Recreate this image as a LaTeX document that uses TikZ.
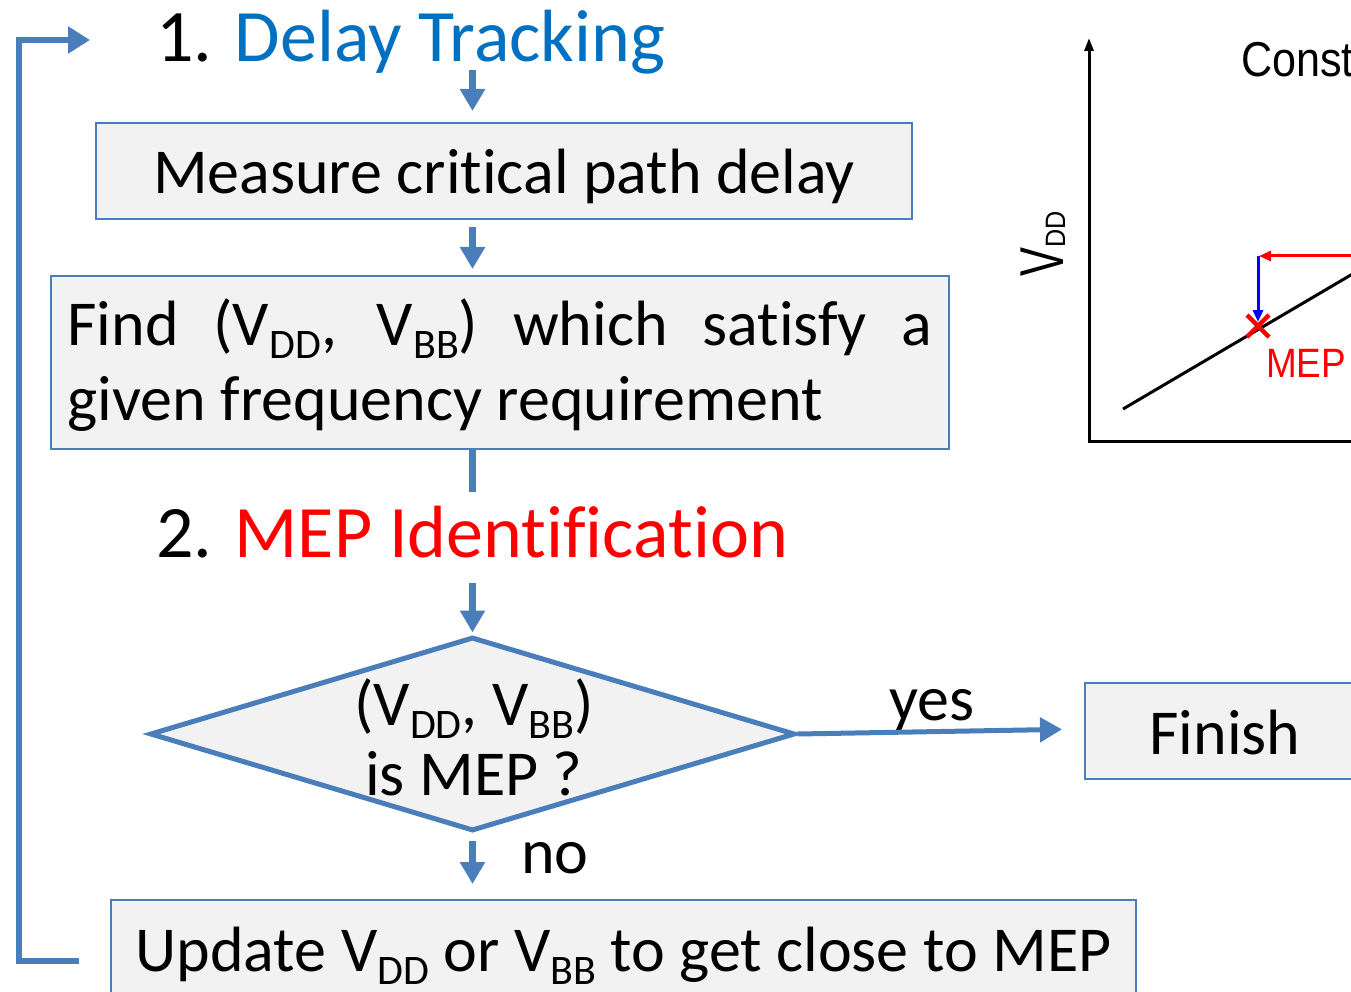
\documentclass[tikz,border=0pt]{standalone}
\usepackage{fontspec}
\setmainfont{Carlito}[Ligatures=NoCommon]
\newfontfamily\arialf{Liberation Sans}
\usetikzlibrary{arrows.meta,shapes.geometric}
\definecolor{lnblue}{HTML}{4A7EBB}
\definecolor{ttblue}{HTML}{0070C0}
\definecolor{boxfill}{HTML}{F2F2F2}
\definecolor{mepred}{HTML}{FF0000}
\newcommand\sbsc[1]{\raisebox{-13pt}{\fontsize{42}{42}\selectfont #1}}
\begin{document}
\begin{tikzpicture}[x=1pt,y=-1pt,
  box/.style={draw=lnblue, line width=2pt, fill=boxfill, inner sep=0pt, font=\fontsize{64}{75}\selectfont},
  onebox/.style={box, text height=58pt, text depth=12pt},
  plain/.style={inner sep=0pt, font=\fontsize{64}{75}\selectfont},
  ttl/.style={inner sep=0pt, anchor=base west, font=\fontsize{74}{80}\selectfont},
  arr/.style={draw=lnblue, line width=6.5pt, -{Triangle[width=24pt,length=22pt]}},
  conn/.style={draw=lnblue, line width=6.5pt},
  loopln/.style={draw=lnblue, line width=6pt, -{Triangle[width=26pt,length=22pt]}},
  axis/.style={draw=black, line width=3pt},
]
\useasboundingbox (0,0) rectangle (1351,992);

% titles
\node[ttl] (title1) at (156,62) {1. \textcolor{ttblue}{Delay Tracking}};
\node[ttl] (title2) at (156,557) {2. \textcolor{mepred}{MEP Identification}};

% boxes
\node[onebox, minimum width=816pt, minimum height=96pt] (box1) at (504,171) {Measure critical path delay};
\node[box, minimum width=898pt, minimum height=173pt, text width=865pt, align=justify, text height=53pt, text depth=88pt] (box2) at (500,362.5)
  {Find (V\sbsc{DD}, V\sbsc{BB}) which satisfy a\linebreak given frequency requirement};
\node[diamond, draw=lnblue, line width=5pt, fill=boxfill, minimum width=645pt, minimum height=194pt, inner sep=0pt] (dia) at (472.5,734) {};
\node[plain, anchor=base] (dl1) at (474,725) {(V\sbsc{DD}, V\sbsc{BB})};
\node[plain, anchor=base] (dl2) at (474,795) {is MEP ?};
\node[onebox, minimum width=280pt, minimum height=96pt] (fin) at (1225,731) {Finish};
\node[onebox, minimum width=1025pt, minimum height=96pt] (upd) at (623.5,948) {Update V\sbsc{DD} or V\sbsc{BB} to get close to MEP};

% labels
\node[plain, anchor=base west] (yes) at (889,720) {yes};
\node[plain, anchor=base west] (no) at (521,873) {no};

% connectors
\draw[arr, shorten <=8pt, shorten >=11pt] (dia.north |- title1.base) -- (dia.north |- box1.north);
\draw[arr, shorten <=7pt, shorten >=6pt] (dia.north |- box1.south) -- (dia.north |- box2.north);
\draw[conn, shorten >=65pt] (dia.north |- box2.south) -- (dia.north |- title2.base);
\draw[arr, shorten <=26pt, shorten >=2pt] (dia.north |- title2.base) -- (dia.north);
\draw[arr, line width=5pt, shorten >=22pt] (dia.east) -- ([yshift=2pt]fin.west);
\draw[arr, shorten <=7pt, shorten >=15pt] (dia.south) -- (dia.south |- upd.north);

% feedback loop
\coordinate (fbtip) at (90,40);
\coordinate (fbcorner) at (19,40);
\draw[loopln] ([xshift=-31pt,yshift=-13pt]upd.west) -| (fbcorner) -- (fbtip);

% chart
\draw[axis, -{Triangle[width=9pt,length=13pt]}] (1089,442) -- (1089,38);
\draw[axis] (1087.5,441) -- (1360,441);
\draw[axis] (1123,409) -- (1360,269.6);
\draw[draw=mepred, line width=3pt, -{Triangle[width=10pt,length=12pt]}] (1360,256) -- (1259,256);
\draw[draw=blue, line width=3pt, -{Triangle[width=10pt,length=12pt]}] (1258,256) -- (1258,322);
\draw[draw=mepred, line width=4.5pt] (1247,315) -- (1269,337) (1247,337) -- (1269,315);
\node[inner sep=0pt, anchor=base west, text=mepred, font=\arialf\fontsize{41}{41}\selectfont, xscale=0.9] (mep) at (1266,377) {MEP};
\node[inner sep=0pt, anchor=base west, font=\arialf\fontsize{49}{49}\selectfont, xscale=0.88] (const) at (1241,77) {Const};
\node[inner sep=0pt, anchor=base west, rotate=90, font=\arialf] (vdd) at (1063,277)
  {\scalebox{0.7}[1]{\fontsize{62}{62}\selectfont V}\raisebox{-2pt}{\scalebox{0.9}[1]{\fontsize{28}{28}\selectfont DD}}};
\end{tikzpicture}
\end{document}
